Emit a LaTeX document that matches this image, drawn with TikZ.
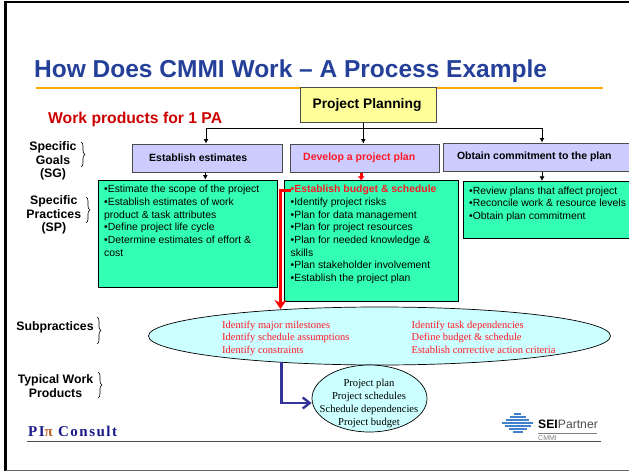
\documentclass[tikz,border=0pt]{standalone}
\usepackage{fontspec}
\setmainfont{Liberation Sans}
\newfontfamily\serifface{Liberation Serif}
\newfontfamily\logoface[LetterSpace=10]{Liberation Serif}
\usetikzlibrary{decorations.pathreplacing,arrows.meta,shapes.geometric}
\newlength{\du}
\setlength{\du}{1pt}
\definecolor{titleblue}{rgb}{0.14,0.25,0.60}
\definecolor{ruleorange}{rgb}{1.00,0.67,0.00}
\definecolor{planyellow}{rgb}{1.00,1.00,0.60}
\definecolor{goalblue}{rgb}{0.80,0.80,1.00}
\definecolor{practicegreen}{rgb}{0.20,1.00,0.70}
\definecolor{subcyan}{rgb}{0.80,1.00,1.00}
\definecolor{redtext}{rgb}{1.00,0.10,0.15}
\definecolor{arrowblue}{rgb}{0.20,0.20,0.60}
\definecolor{logoblue}{rgb}{0.25,0.50,0.80}
\definecolor{piblue}{rgb}{0.10,0.10,0.55}
\tikzset{
  planbox/.style={draw=black!70,line width=1pt,fill=planyellow,inner sep=0pt,font=\bfseries\fontsize{13.8}{15}\selectfont},
  goalbox/.style={draw=black!70,line width=1pt,fill=goalblue,inner sep=0pt,font=\bfseries\fontsize{10.5}{12}\selectfont},
  practicebox/.style={draw=black,line width=0.7pt,fill=practicegreen,inner sep=0pt},
  practicetext/.style={anchor=north west,inner sep=0pt,align=left,font=\fontsize{10.4}{12.7}\selectfont},
  sidelabel/.style={inner sep=0pt,align=center,font=\bfseries\fontsize{12.3}{13.4}\selectfont},
  subtext/.style={anchor=north west,inner sep=0pt,align=left,text=redtext,font=\serifface\fontsize{10.5}{12.6}\selectfont},
  subellipse/.style={ellipse,draw=black,line width=0.7pt,fill=subcyan,inner sep=0pt},
  worktext/.style={inner sep=0pt,align=center,font=\serifface\fontsize{10.6}{12.7}\selectfont},
  sidebrace/.style={draw=black,line width=0.6pt,decorate,decoration={brace,amplitude=4pt}},
  thinlink/.style={draw=black,line width=0.8pt,-{Latex[length=4.5pt,width=5pt]}},
  stublink/.style={draw=red,line width=3pt,-{Latex[length=4pt,width=7.5pt]}},
  redlink/.style={draw=red,line width=2.6pt,-{Stealth[length=9pt,width=12pt,inset=3pt]}},
  bluelink/.style={draw=arrowblue,line width=2.4pt,-{Straight Barb[length=7pt,width=11pt]}},
}
\begin{document}
\begin{tikzpicture}[x=1\du,y=-1\du]
\useasboundingbox (0,0) rectangle (629,471);
% frame
\draw[black,line width=2.5pt] (629,2.2)--(5.5,2.2)--(5.5,471);
\draw[black!60,line width=0.8pt] (5.5,470.3)--(629,470.3);
% title
\draw[ruleorange,line width=2.2pt] (36,88)--(603,88);
\node[anchor=base west,inner sep=0pt,text=titleblue,font=\bfseries\fontsize{24.5}{26}\selectfont] (title) at (34,77) {How Does CMMI Work – A Process Example};
\node[anchor=west,inner sep=0pt,text=red!80!black,font=\bfseries\fontsize{15.7}{17}\selectfont] (workproducts) at (48,119.5) {Work products for 1 PA};
% boxes
\node[planbox,minimum width=136\du,minimum height=35\du] (plan) at (368,104.5) {\hspace{-2\du}Project Planning};
\node[goalbox,minimum width=150\du,minimum height=28\du] (estimates) at (207.7,158) {\hspace{-19\du}Establish estimates};
\node[goalbox,minimum width=149\du,minimum height=28\du,text=redtext] (develop) at (364.7,158) {\hspace{-11\du}Develop a project plan};
\node[goalbox,minimum width=187\du,minimum height=28\du] (commit) at (536.8,157) {\hspace{-5\du}Obtain commitment to the plan};
\node[practicebox,minimum width=179\du,minimum height=107.5\du] (scope) at (187.8,233.7) {};
\node[practicebox,minimum width=174\du,minimum height=121\du] (budget) at (371.2,241.2) {};
\node[practicebox,minimum width=170\du,minimum height=57.5\du] (review) at (548.3,210) {};
\node[practicetext] (scopetext) at (104,185) {•Estimate the scope of the project\\•Establish estimates of work\\product \& task attributes\\•Define project life cycle\\•Determine estimates of effort \&\\cost};
\node[practicetext] (budgettext) at (290.5,185) {\textcolor{redtext}{\textbf{•Establish budget \& schedule}}\\•Identify project risks\\•Plan for data management\\•Plan for project resources\\•Plan for needed knowledge \&\\skills\\•Plan stakeholder involvement\\•Establish the project plan};
\node[practicetext] (reviewtext) at (469,186.5) {•Review plans that affect project\\•Reconcile work \& resource levels\\•Obtain plan commitment};
% ellipses
\node[subellipse,minimum width=462\du,minimum height=58\du] (subs) at (379.5,336) {};
\node[subtext] (subleft) at (222,320.5) {Identify major milestones\\Identify schedule assumptions\\Identify constraints};
\node[subtext] (subright) at (411.5,320.5) {Identify task dependencies\\Define budget \& schedule\\Establish corrective action criteria};
\node[subellipse,minimum width=115\du,minimum height=67\du] (work) at (369.5,398.5) {};
\node[worktext] (worklabel) at (369,403.5) {Project plan\\Project schedules\\Schedule dependencies\\Project budget};
\coordinate (subtop) at (280.5,309);
\coordinate (subbottom) at (281.5,362);
\coordinate (redstart) at (291,190.5);
\coordinate (busleft) at (206,128.3);
\coordinate (busright) at (542,128.3);
% links
\draw[black,line width=0.8pt] (busleft)--(busright);
\draw[thinlink] ([xshift=-4.7\du]plan.south)--([xshift=-1.4\du]develop.north);
\draw[thinlink] (busleft)--([xshift=-1.7\du]estimates.north);
\draw[thinlink] (busright)--([xshift=5.2\du]commit.north);
\draw[thinlink] ([xshift=-2.4\du]estimates.south)--([xshift=17.5\du]scope.north);
\draw[stublink] ([xshift=-3.5\du]develop.south)--([xshift=-10\du]budget.north);
\draw[thinlink] ([xshift=5.2\du]commit.south)--([xshift=-6.3\du]review.north);
\draw[redlink] (redstart)-|(subtop);
\draw[bluelink] (subbottom)|-([yshift=-4.5\du]work.west);
% side labels
\node[sidelabel] (goals) at (53,161) {Specific\\Goals\\(SG)};
\node[sidelabel] (practices) at (53.8,215) {Specific\\Practices\\(SP)};
\node[sidelabel] (subpractices) at (55,327) {Subpractices};
\node[sidelabel] (typical) at (55.5,386.3) {Typical Work\\[1\du]Products};
\coordinate (goalsa) at (81,142); \coordinate (goalsb) at (81,167);
\coordinate (practicesa) at (86,197); \coordinate (practicesb) at (86,223);
\coordinate (subpa) at (97,317); \coordinate (subpb) at (97,344);
\coordinate (typicala) at (98,372); \coordinate (typicalb) at (98,398);
\draw[sidebrace] (goalsa)--(goalsb);
\draw[sidebrace] (practicesa)--(practicesb);
\draw[sidebrace] (subpa)--(subpb);
\draw[sidebrace] (typicala)--(typicalb);
% footer
\draw[black!70,line width=0.7pt] (27,441)--(600.5,441);
\node[anchor=base west,inner sep=0pt,text=piblue,font=\logoface\bfseries\fontsize{15}{17}\selectfont] (piconsult) at (28,436) {PI\textcolor{orange!70!piblue}{π} Consult};
\foreach \yy/\ww in {414/7,417/16,420/23,423/31,426/26,429/18,432/10}
  \draw[logoblue,line width=2pt] (517.5-\ww/2,\yy)--(517.5+\ww/2,\yy);
\node[anchor=base west,inner sep=0pt,font=\fontsize{12.2}{15}\selectfont] (seipartner) at (538,428) {\textbf{SEI}\textcolor{black!70}{Partner}};
\draw[black!50,line width=0.5pt] (538,433)--(597,433);
\node[anchor=base west,inner sep=0pt,text=black!50,font=\fontsize{7}{8}\selectfont] (cmmi) at (538,440) {CMMI};
\end{tikzpicture}
\end{document}
